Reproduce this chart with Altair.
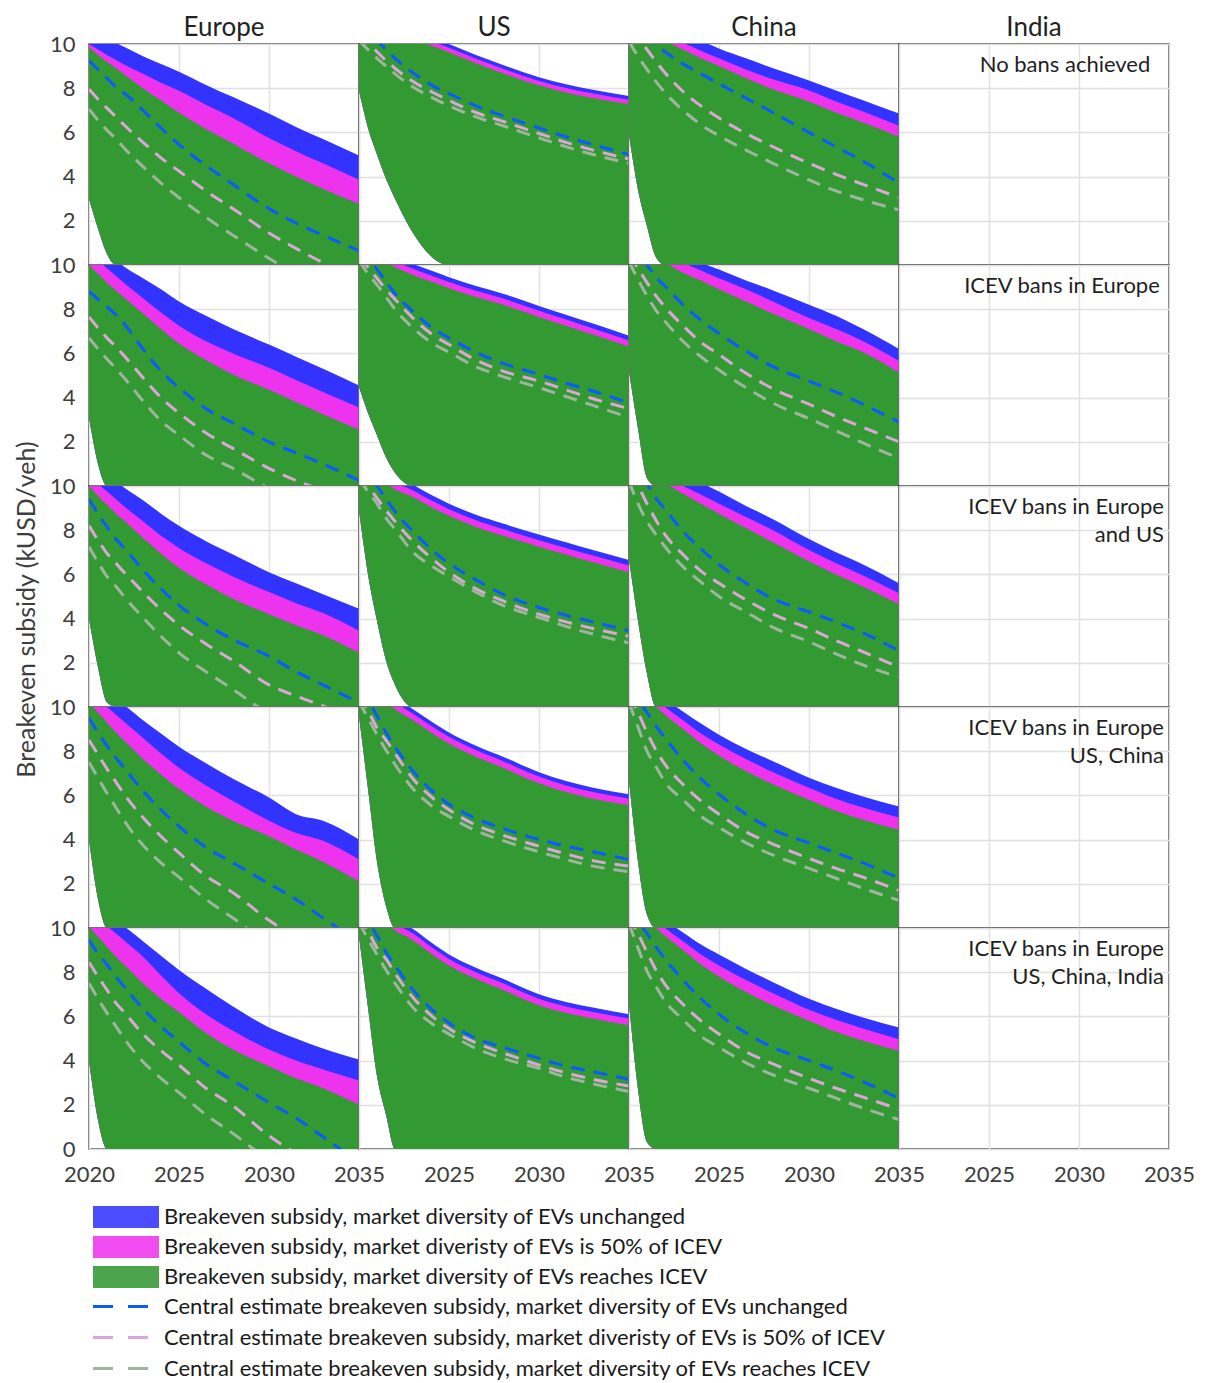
import altair as alt
import pandas as pd

YEARS = [2020, 2020.5, 2021, 2021.5, 2022, 2023, 2024, 2025, 2026.5, 2028, 2030, 2031.5, 2033, 2035]
X_TICKS = [2020, 2025, 2030, 2035]
Y_TICKS = [0, 2, 4, 6, 8, 10]

REGIONS = ["Europe", "US", "China", "India"]
SCENARIOS = [
    "No bans achieved",
    "ICEV bans in Europe",
    "ICEV bans in Europe\nand US",
    "ICEV bans in Europe\nUS, China",
    "ICEV bans in Europe\nUS, China, India",
]

BAND_LABELS = [
    "Breakeven subsidy, market diversity of EVs unchanged",
    "Breakeven subsidy, market diveristy of EVs is 50% of ICEV",
    "Breakeven subsidy, market diversity of EVs reaches ICEV",
]
BAND_COLORS = ["#3333ff", "#ee33ee", "#339933"]
LINE_LABELS = [
    "Central estimate breakeven subsidy, market diversity of EVs unchanged",
    "Central estimate breakeven subsidy, market diveristy of EVs is 50% of ICEV",
    "Central estimate breakeven subsidy, market diversity of EVs reaches ICEV",
]
LINE_COLORS = ["#0a5cff", "#dca6d6", "#9fb59f"]

Z = [0] * 9

# ---- Row 1: No bans achieved ----
eu_1 = dict(
    lower=[3.0, 1.65, 0.5, 0, 0] + Z,
    blue=[10.7, 10.5, 10.25, 10.05, 9.85, 9.45, 9.1, 8.75, 8.15, 7.6, 6.85, 6.25, 5.7, 4.95],
    magenta=[10.0, 9.75, 9.5, 9.28, 9.05, 8.65, 8.25, 7.88, 7.25, 6.65, 5.75, 5.15, 4.6, 3.86],
    green=[9.85, 9.5, 9.2, 8.9, 8.6, 8.0, 7.45, 6.9, 6.15, 5.5, 4.6, 4.0, 3.45, 2.76],
    c_blue=[9.25, 8.85, 8.45, 8.05, 7.75, 7.0, 6.2, 5.45, 4.5, 3.65, 2.55, 1.9, 1.35, 0.65],
    c_pink=[7.95, 7.5, 7.1, 6.7, 6.3, 5.55, 4.85, 4.25, 3.35, 2.55, 1.45, 0.75, 0.1, -0.7],
    c_gray=[7.05, 6.55, 6.1, 5.7, 5.25, 4.45, 3.7, 3.05, 2.15, 1.35, 0.3, -0.4, -1.0, -1.8],
)
us_1 = dict(
    lower=[7.9, 6.2, 5.0, 3.9, 3.0, 1.45, 0.4, 0, 0, 0, 0, 0, 0, 0],
    blue=[12.2, 11.9, 11.6, 11.35, 11.1, 10.65, 10.3, 10.0, 9.5, 9.05, 8.5, 8.18, 7.93, 7.65],
    magenta=[12.03, 11.73, 11.43, 11.18, 10.93, 10.48, 10.13, 9.83, 9.33, 8.88, 8.33, 8.01, 7.76, 7.48],
    green=[11.83, 11.53, 11.23, 10.98, 10.73, 10.28, 9.93, 9.63, 9.13, 8.68, 8.13, 7.81, 7.56, 7.28],
    c_blue=[11.0, 10.55, 10.15, 9.75, 9.35, 8.7, 8.15, 7.75, 7.2, 6.75, 6.2, 5.8, 5.45, 5.0],
    c_pink=[10.5, 10.05, 9.65, 9.25, 8.9, 8.3, 7.85, 7.45, 6.9, 6.5, 5.95, 5.55, 5.2, 4.8],
    c_gray=[10.15, 9.75, 9.35, 9.0, 8.65, 8.05, 7.6, 7.2, 6.7, 6.3, 5.75, 5.35, 5.0, 4.6],
)
cn_1 = dict(
    lower=[5.9, 3.4, 1.75, 0.35, 0] + Z,
    blue=[12.0, 11.75, 11.5, 11.2, 10.95, 10.5, 10.15, 9.8, 9.35, 8.9, 8.35, 7.9, 7.45, 6.85],
    magenta=[11.5, 11.2, 10.95, 10.7, 10.45, 10.05, 9.7, 9.35, 8.85, 8.4, 7.9, 7.4, 6.95, 6.3],
    green=[11.2, 10.9, 10.65, 10.4, 10.15, 9.75, 9.35, 9.0, 8.45, 7.95, 7.4, 6.9, 6.45, 5.8],
    c_blue=[11.2, 10.75, 10.35, 9.95, 9.65, 9.1, 8.65, 8.2, 7.55, 6.9, 6.0, 5.35, 4.7, 3.7],
    c_pink=[10.6, 10.25, 9.75, 9.2, 8.7, 7.85, 7.2, 6.65, 5.95, 5.35, 4.6, 4.1, 3.65, 3.05],
    c_gray=[10.1, 9.45, 8.85, 8.3, 7.8, 7.0, 6.35, 5.85, 5.2, 4.6, 3.85, 3.35, 2.95, 2.5],
)

# ---- Row 2: ICEV bans in Europe ----
eu_2 = dict(
    lower=[3.1, 1.0, 0, 0, 0] + Z,
    blue=[11.0, 10.7, 10.45, 10.2, 9.9, 9.4, 8.9, 8.35, 7.7, 7.1, 6.4, 5.85, 5.3, 4.55],
    magenta=[10.5, 10.2, 9.85, 9.5, 9.15, 8.5, 7.85, 7.25, 6.55, 6.0, 5.35, 4.8, 4.25, 3.55],
    green=[10.0, 9.6, 9.2, 8.85, 8.5, 7.8, 7.1, 6.45, 5.7, 5.05, 4.35, 3.8, 3.25, 2.55],
    c_blue=[8.8, 8.45, 8.1, 7.75, 7.3, 6.2, 5.2, 4.45, 3.5, 2.85, 2.0, 1.5, 1.0, 0.25],
    c_pink=[7.65, 7.15, 6.7, 6.3, 5.85, 4.9, 4.0, 3.3, 2.4, 1.7, 0.8, 0.25, -0.2, -0.8],
    c_gray=[6.7, 6.2, 5.75, 5.3, 4.85, 3.85, 2.95, 2.3, 1.4, 0.8, -0.1, -0.6, -1.1, -1.6],
)
us_2 = dict(
    lower=[4.5, 3.3, 2.3, 1.3, 0.6, 0, 0, 0, 0, 0, 0, 0, 0, 0],
    blue=[11.2, 11.0, 10.8, 10.6, 10.4, 10.05, 9.75, 9.45, 9.05, 8.7, 8.15, 7.75, 7.35, 6.8],
    magenta=[10.98, 10.78, 10.58, 10.38, 10.18, 9.83, 9.53, 9.23, 8.83, 8.48, 7.93, 7.53, 7.13, 6.58],
    green=[10.7, 10.5, 10.3, 10.1, 9.9, 9.55, 9.25, 8.95, 8.55, 8.2, 7.65, 7.25, 6.85, 6.3],
    c_blue=[10.7, 10.35, 9.8, 9.25, 8.7, 7.9, 7.2, 6.7, 6.05, 5.55, 5.05, 4.65, 4.3, 3.75],
    c_pink=[10.35, 9.9, 9.4, 8.9, 8.45, 7.6, 6.9, 6.4, 5.7, 5.2, 4.75, 4.35, 3.95, 3.5],
    c_gray=[10.2, 9.6, 9.1, 8.55, 8.0, 7.15, 6.5, 6.05, 5.4, 4.95, 4.45, 4.05, 3.65, 3.1],
)
cn_2 = dict(
    lower=[5.2, 2.6, 0.35, 0, 0] + Z,
    blue=[11.8, 11.55, 11.3, 11.05, 10.8, 10.45, 10.1, 9.8, 9.3, 8.85, 8.2, 7.7, 7.1, 6.2],
    magenta=[11.3, 11.1, 10.9, 10.7, 10.5, 10.1, 9.75, 9.4, 8.9, 8.35, 7.6, 7.1, 6.55, 5.66],
    green=[11.0, 10.75, 10.5, 10.3, 10.1, 9.65, 9.3, 8.9, 8.35, 7.8, 7.1, 6.55, 6.05, 5.13],
    c_blue=[11.0, 10.5, 10.0, 9.45, 9.05, 8.2, 7.5, 6.9, 6.1, 5.4, 4.75, 4.25, 3.7, 2.9],
    c_pink=[10.45, 9.85, 9.2, 8.6, 8.1, 7.25, 6.5, 5.95, 5.1, 4.4, 3.7, 3.15, 2.65, 2.0],
    c_gray=[10.15, 9.35, 8.6, 7.95, 7.45, 6.55, 5.85, 5.25, 4.45, 3.75, 3.05, 2.5, 1.95, 1.25],
)

# ---- Row 3: ICEV bans in Europe and US ----
eu_3 = dict(
    lower=[4.0, 1.8, 0.2, 0, 0] + Z,
    blue=[11.0, 10.7, 10.45, 10.2, 9.9, 9.35, 8.75, 8.2, 7.5, 6.9, 6.1, 5.6, 5.1, 4.45],
    magenta=[10.45, 10.1, 9.75, 9.4, 9.05, 8.4, 7.75, 7.2, 6.5, 5.9, 5.2, 4.7, 4.25, 3.45],
    green=[10.0, 9.55, 9.15, 8.75, 8.4, 7.65, 6.95, 6.3, 5.55, 4.9, 4.2, 3.7, 3.25, 2.45],
    c_blue=[9.4, 8.75, 8.15, 7.6, 7.15, 6.2, 5.35, 4.6, 3.75, 3.05, 2.3, 1.6, 1.0, 0.2],
    c_pink=[8.2, 7.55, 6.95, 6.5, 6.05, 5.2, 4.4, 3.7, 2.85, 2.1, 1.0, 0.5, 0.05, -0.6],
    c_gray=[7.25, 6.55, 5.9, 5.45, 4.95, 4.05, 3.2, 2.45, 1.6, 0.8, -0.3, -0.8, -1.3, -1.9],
)
us_3 = dict(
    lower=[8.9, 6.0, 3.9, 2.1, 1.0, 0, 0, 0, 0, 0, 0, 0, 0, 0],
    blue=[11.4, 11.15, 10.9, 10.65, 10.4, 10.05, 9.6, 9.2, 8.7, 8.3, 7.8, 7.45, 7.1, 6.65],
    magenta=[11.15, 10.9, 10.65, 10.4, 10.15, 9.8, 9.35, 8.95, 8.45, 8.05, 7.55, 7.2, 6.85, 6.4],
    green=[10.85, 10.6, 10.35, 10.1, 9.85, 9.5, 9.05, 8.65, 8.15, 7.75, 7.25, 6.9, 6.55, 6.1],
    c_blue=[10.9, 10.45, 10.0, 9.4, 8.85, 7.95, 7.15, 6.5, 5.75, 5.1, 4.5, 4.15, 3.85, 3.45],
    c_pink=[10.5, 10.0, 9.45, 8.9, 8.4, 7.5, 6.75, 6.1, 5.35, 4.8, 4.2, 3.85, 3.55, 3.2],
    c_gray=[10.3, 9.75, 9.2, 8.55, 8.05, 7.0, 6.4, 5.9, 5.2, 4.6, 4.05, 3.65, 3.3, 2.9],
)
cn_3 = dict(
    lower=[6.7, 3.9, 1.5, 0, 0] + Z,
    blue=[12.0, 11.75, 11.5, 11.3, 11.05, 10.6, 10.15, 9.75, 9.1, 8.5, 7.6, 7.0, 6.45, 5.6],
    magenta=[11.3, 11.05, 10.8, 10.55, 10.35, 10.0, 9.6, 9.2, 8.6, 8.0, 7.1, 6.5, 5.95, 5.15],
    green=[11.0, 10.75, 10.5, 10.3, 10.1, 9.65, 9.2, 8.75, 8.1, 7.45, 6.6, 6.0, 5.45, 4.65],
    c_blue=[11.2, 10.6, 10.1, 9.45, 8.95, 7.95, 7.15, 6.45, 5.6, 4.9, 4.3, 3.85, 3.35, 2.55],
    c_pink=[10.6, 10.0, 9.2, 8.45, 7.8, 6.9, 6.15, 5.6, 4.85, 4.2, 3.55, 3.0, 2.5, 1.8],
    c_gray=[10.2, 9.2, 8.4, 7.8, 7.25, 6.35, 5.65, 5.0, 4.3, 3.6, 2.95, 2.4, 1.9, 1.35],
)

# ---- Row 4: ICEV bans in Europe, US, China ----
eu_4 = dict(
    lower=[4.0, 1.3, 0, 0, 0] + Z,
    blue=[11.2, 10.9, 10.6, 10.3, 10.05, 9.4, 8.8, 8.2, 7.45, 6.75, 5.9, 5.15, 4.85, 4.0],
    magenta=[10.7, 10.35, 10.0, 9.65, 9.3, 8.6, 7.9, 7.25, 6.45, 5.75, 4.85, 4.3, 3.95, 3.1],
    green=[10.2, 9.75, 9.3, 8.85, 8.45, 7.65, 6.95, 6.3, 5.5, 4.85, 4.15, 3.55, 3.0, 2.1],
    c_blue=[9.5, 8.85, 8.25, 7.7, 7.2, 6.2, 5.35, 4.6, 3.65, 2.95, 2.0, 1.3, 0.45, -0.6],
    c_pink=[8.5, 7.85, 7.2, 6.6, 6.0, 5.0, 4.15, 3.4, 2.35, 1.6, 0.35, -0.4, -1.0, -1.8],
    c_gray=[7.5, 6.8, 6.1, 5.45, 4.8, 3.75, 2.95, 2.3, 1.3, 0.45, -0.7, -1.3, -1.8, -2.4],
)
us_4 = dict(
    lower=[9.6, 6.3, 3.0, 1.0, 0, 0] + [0] * 8,
    blue=[11.6, 11.3, 11.0, 10.7, 10.4, 9.9, 9.35, 8.85, 8.25, 7.75, 7.05, 6.65, 6.35, 6.05],
    magenta=[11.4, 11.1, 10.8, 10.5, 10.2, 9.7, 9.15, 8.65, 8.05, 7.55, 6.85, 6.45, 6.15, 5.85],
    green=[11.1, 10.8, 10.5, 10.2, 9.9, 9.4, 8.85, 8.35, 7.75, 7.25, 6.55, 6.15, 5.85, 5.55],
    c_blue=[10.8, 10.3, 9.6, 8.85, 8.2, 7.1, 6.25, 5.6, 4.95, 4.5, 4.0, 3.7, 3.45, 3.1],
    c_pink=[10.5, 9.85, 9.05, 8.5, 7.9, 6.75, 5.95, 5.35, 4.65, 4.2, 3.7, 3.35, 3.05, 2.8],
    c_gray=[10.25, 9.5, 8.75, 8.05, 7.4, 6.3, 5.55, 5.05, 4.4, 3.95, 3.45, 3.1, 2.8, 2.55],
)
cn_4 = dict(
    lower=[6.7, 3.0, 0.6, 0, 0] + Z,
    blue=[11.7, 11.35, 11.0, 10.65, 10.35, 9.8, 9.25, 8.75, 8.1, 7.55, 6.8, 6.35, 5.95, 5.5],
    magenta=[11.3, 10.95, 10.6, 10.3, 10.0, 9.4, 8.8, 8.3, 7.65, 7.05, 6.35, 5.85, 5.45, 5.0],
    green=[10.9, 10.6, 10.3, 10.0, 9.65, 9.0, 8.35, 7.8, 7.1, 6.5, 5.8, 5.3, 4.9, 4.45],
    c_blue=[10.9, 10.35, 9.75, 9.15, 8.6, 7.6, 6.75, 6.05, 5.15, 4.45, 3.85, 3.4, 2.95, 2.25],
    c_pink=[10.5, 9.75, 8.85, 8.05, 7.4, 6.5, 5.75, 5.15, 4.35, 3.8, 3.15, 2.7, 2.3, 1.7],
    c_gray=[10.2, 9.1, 8.0, 7.3, 6.6, 5.8, 5.05, 4.55, 3.85, 3.3, 2.7, 2.25, 1.8, 1.25],
)

# ---- Row 5: ICEV bans in Europe, US, China, India ----
eu_5 = dict(
    lower=[4.0, 1.3, 0, 0, 0] + Z,
    blue=[11.3, 11.0, 10.65, 10.35, 10.05, 9.4, 8.75, 8.1, 7.25, 6.45, 5.5, 5.0, 4.55, 4.05],
    magenta=[10.8, 10.45, 10.1, 9.75, 9.4, 8.7, 7.85, 7.05, 6.1, 5.35, 4.5, 4.0, 3.6, 3.1],
    green=[10.05, 9.6, 9.15, 8.7, 8.3, 7.5, 6.8, 6.2, 5.25, 4.5, 3.75, 3.2, 2.75, 2.0],
    c_blue=[9.45, 8.85, 8.35, 7.8, 7.3, 6.35, 5.55, 4.85, 3.85, 3.1, 2.1, 1.4, 0.55, -0.6],
    c_pink=[8.45, 7.8, 7.2, 6.6, 6.15, 5.2, 4.45, 3.8, 2.75, 1.95, 0.6, -0.2, -0.9, -1.7],
    c_gray=[7.5, 6.8, 6.15, 5.55, 4.95, 3.95, 3.2, 2.55, 1.55, 0.7, -0.5, -1.2, -1.8, -2.4],
)
us_5 = dict(
    lower=[9.65, 6.4, 3.3, 1.55, 0, 0] + [0] * 8,
    blue=[11.6, 11.3, 11.0, 10.7, 10.4, 9.95, 9.35, 8.8, 8.2, 7.7, 7.0, 6.65, 6.4, 6.1],
    magenta=[11.4, 11.1, 10.8, 10.5, 10.2, 9.75, 9.15, 8.6, 8.0, 7.5, 6.8, 6.45, 6.2, 5.9],
    green=[11.1, 10.8, 10.5, 10.2, 9.9, 9.45, 8.85, 8.3, 7.7, 7.2, 6.5, 6.15, 5.9, 5.6],
    c_blue=[10.8, 10.3, 9.65, 8.9, 8.3, 7.2, 6.35, 5.7, 5.0, 4.6, 4.1, 3.75, 3.5, 3.15],
    c_pink=[10.5, 9.85, 9.1, 8.6, 7.95, 6.85, 6.05, 5.45, 4.8, 4.35, 3.8, 3.45, 3.15, 2.85],
    c_gray=[10.25, 9.5, 8.8, 8.1, 7.5, 6.4, 5.7, 5.2, 4.55, 4.1, 3.65, 3.25, 2.95, 2.6],
)
cn_5 = dict(
    lower=[6.6, 2.7, 0.3, 0, 0] + Z,
    blue=[11.7, 11.35, 11.0, 10.65, 10.35, 9.8, 9.25, 8.8, 8.15, 7.55, 6.8, 6.35, 5.95, 5.5],
    magenta=[11.3, 10.95, 10.6, 10.3, 10.0, 9.4, 8.8, 8.3, 7.65, 7.05, 6.3, 5.85, 5.45, 4.97],
    green=[10.9, 10.6, 10.3, 10.0, 9.65, 9.0, 8.35, 7.8, 7.1, 6.5, 5.8, 5.3, 4.9, 4.45],
    c_blue=[10.9, 10.35, 9.75, 9.15, 8.6, 7.65, 6.8, 6.1, 5.25, 4.6, 4.0, 3.55, 3.05, 2.3],
    c_pink=[10.5, 9.75, 8.9, 8.1, 7.45, 6.55, 5.8, 5.2, 4.4, 3.85, 3.2, 2.75, 2.35, 1.8],
    c_gray=[10.2, 9.1, 8.05, 7.35, 6.7, 5.85, 5.1, 4.6, 3.9, 3.35, 2.75, 2.3, 1.85, 1.33],
)

PANELS = [
    [eu_1, us_1, cn_1, None],
    [eu_2, us_2, cn_2, None],
    [eu_3, us_3, cn_3, None],
    [eu_4, us_4, cn_4, None],
    [eu_5, us_5, cn_5, None],
]

W, H = 270, 221
FONT = "Lato"

band_legend = alt.Legend(
    title=None, orient="none", legendX=26, legendY=1162, direction="vertical",
    symbolType="M-3,-1H3V1H-3Z", symbolSize=484, symbolStrokeWidth=0, symbolOpacity=0.88,
    labelFont=FONT, labelFontSize=22, labelColor="#1a1a1a", labelOffset=27, labelLimit=0,
    rowPadding=8,
)
line_legend = alt.Legend(
    title=None, orient="none", legendX=19, legendY=1250, direction="vertical",
    symbolType="M-2.5,0H2.5", symbolSize=484, symbolStrokeWidth=3, symbolDash=[20, 15],
    labelFont=FONT, labelFontSize=22, labelColor="#1a1a1a", labelOffset=31, labelLimit=0,
    rowPadding=7,
)

color_enc = alt.Color("band:N", scale=alt.Scale(domain=BAND_LABELS, range=BAND_COLORS), legend=band_legend)
stroke_enc = alt.Stroke("series:N", scale=alt.Scale(domain=LINE_LABELS, range=LINE_COLORS), legend=line_legend)

xscale = alt.Scale(domain=[2020, 2035], nice=False, zero=False)
yscale = alt.Scale(domain=[0, 10], nice=False)


def axes(r, c):
    xa = dict(values=X_TICKS, format="d", title=None, grid=True, ticks=False, domain=False,
              labelFlush=False, labels=(r == 4), labelPadding=15)
    if c > 0:
        xa["labelExpr"] = "datum.value == 2020 ? '' : datum.label"
    ya = dict(values=Y_TICKS, title=None, grid=True, ticks=False, domain=False,
              labelFlush=False, labels=(c == 0), labelPadding=14)
    if r < 4:
        ya["labelExpr"] = "datum.value == 0 ? '' : datum.label"
    if r == 2 and c == 0:
        ya["title"] = "Breakeven subsidy (kUSD/veh)"
        ya["titleY"] = 123
        ya["titleX"] = -50
        ya["titleBaseline"] = "bottom"
    return alt.Axis(**xa), alt.Axis(**ya)


def make_panel(r, c):
    d = PANELS[r][c]
    xa, ya = axes(r, c)
    X = alt.X("year:Q", scale=xscale, axis=xa)
    layers = []
    if d is not None:
        for key, label in zip(["blue", "magenta", "green"], BAND_LABELS):
            df = pd.DataFrame({"year": YEARS, "top": d[key], "lower": d["lower"], "band": label})
            layers.append(
                alt.Chart(df).mark_area(interpolate="monotone", clip=True, opacity=1).encode(
                    x=X, y=alt.Y("top:Q", scale=yscale, axis=ya), y2="lower:Q", color=color_enc
                )
            )
        rows = []
        for key, label in zip(["c_blue", "c_pink", "c_gray"], LINE_LABELS):
            for yr, v in zip(YEARS, d[key]):
                rows.append({"year": yr, "value": v, "series": label})
        ldf = pd.DataFrame(rows)
        layers.append(
            alt.Chart(ldf).mark_line(interpolate="monotone", clip=True, strokeWidth=3,
                                     strokeDash=[14, 9]).encode(
                x=X, y=alt.Y("value:Q", scale=yscale, axis=ya), stroke=stroke_enc,
                detail="series:N",
            )
        )
    else:
        empty = pd.DataFrame({"year": pd.Series([], dtype=float), "value": pd.Series([], dtype=float)})
        layers.append(
            alt.Chart(empty).mark_line().encode(
                x=X, y=alt.Y("value:Q", scale=yscale, axis=ya)
            )
        )
        txt = SCENARIOS[r]
        if r == 0:
            tx, al = 166, "center"
        elif r == 1:
            tx, al = 163, "center"
        else:
            tx, al = 265, "right"
        layers.append(
            alt.Chart(pd.DataFrame({"label": [txt]})).mark_text(
                align=al, baseline="middle", font=FONT, fontSize=22, lineBreak="\n",
                lineHeight=28, color="#1f1f1f",
            ).encode(text="label:N", x=alt.value(tx), y=alt.value(21))
        )
    ch = alt.layer(*layers).properties(width=W, height=H)
    if r == 0:
        tkw = dict(fontSize=26, font=FONT, fontWeight="normal", color="#222222", offset=3)
        if c == 0:
            tkw["dy"] = 11
        ch = ch.properties(title=alt.TitleParams(REGIONS[c], **tkw))
    return ch


panels = [make_panel(r, c) for r in range(5) for c in range(4)]

chart = (
    alt.concat(*panels, columns=4, spacing=0, bounds="flush")
    .resolve_scale(color="shared", stroke="shared")
    .properties(padding={"left": 5, "top": 6, "right": 0, "bottom": 0})
    .configure_view(stroke="#3c3c3c", strokeWidth=1.5)
    .configure_axis(
        labelFont=FONT, labelFontSize=22, labelColor="#3d3d3d",
        gridColor="#e0e0e0", gridWidth=1.5,
        titleFont=FONT, titleFontSize=25, titleFontWeight="normal", titleColor="#3d3d3d",
    )
)

chart.save("out.html", embed_options={"renderer": "svg", "actions": False})
